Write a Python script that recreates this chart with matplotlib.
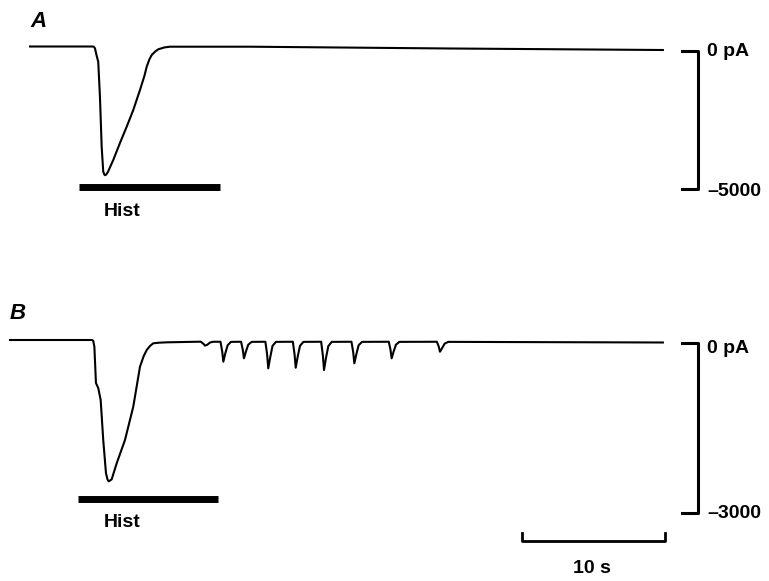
import matplotlib
matplotlib.use("Agg")
import matplotlib.pyplot as plt

plt.rcParams['font.family'] = ['Liberation Sans', 'DejaVu Sans']

# trace A: time (s), current (pA)
a_t = [1.40, 5.73, 5.85, 5.94, 6.05, 6.17, 6.29, 6.41, 6.52, 6.60, 6.66, 6.74, 6.85,
       7.22, 7.69, 8.16, 8.62, 9.09, 9.40, 9.56, 9.75, 9.91, 10.15, 10.37, 10.80,
       11.19, 16.78, 30.77, 45.66]
a_i = [163, 163, 160, 100, -150, -388, -1656, -3467, -4373, -4480, -4500, -4470, -4380,
       -3949, -3333, -2743, -2138, -1413, -900, -569, -300, -145, -20, 62, 130,
       156, 156, 91, 36]

# trace B: main response then repeated transient inward currents
b_t = [0.00, 5.71, 5.82, 5.90, 6.01, 6.17, 6.34, 6.52, 6.71, 6.82, 6.90, 6.98, 7.11,
       7.46, 8.04, 8.62, 9.09, 9.35, 9.56, 9.80, 10.02, 10.40, 10.96, 13.29,
       13.35, 13.55, 13.64, 13.80, 14.00, 14.20,
       14.72, 14.84, 14.92, 15.06, 15.22, 15.45,
       16.16, 16.28, 16.36, 16.50, 16.66, 16.90,
       17.86, 17.98, 18.06, 18.20, 18.36, 18.60,
       19.78, 19.90, 19.98, 20.12, 20.28, 20.52,
       21.76, 21.88, 21.96, 22.10, 22.26, 22.50,
       23.88, 24.00, 24.08, 24.22, 24.38, 24.62,
       26.49, 26.61, 26.69, 26.83, 26.99, 27.23,
       29.85, 29.98, 30.07, 30.22, 30.40, 30.65,
       45.66]
b_i = [53, 53, 40, -65, -706, -794, -1006, -1712, -2294, -2410, -2440, -2430, -2406,
       -2123, -1712, -1124, -418, -230, -124, -50, -5, 5, 12, 23,
       22, -20, -47, -30, 10, 22,
       22, -150, -330, -180, -40, 20,
       22, -120, -270, -150, -30, 20,
       22, -200, -447, -250, -50, 20,
       22, -200, -436, -240, -50, 20,
       22, -220, -477, -260, -55, 20,
       22, -160, -358, -200, -40, 20,
       22, -120, -270, -150, -30, 20,
       22, -60, -154, -90, -10, 20,
       9]

# histamine application (s)
hist_a = [4.83, 14.69]
hist_b = [4.76, 14.55]

fig = plt.figure(figsize=(7.69, 5.81), dpi=100)
xl = (-0.70, 53.08)

axA = fig.add_axes([0, 0, 1, 1])
axA.set_xlim(*xl)
axA.set_ylim(-19203, 1848)
axB = fig.add_axes([0, 0, 1, 1])
axB.set_xlim(*xl)
axB.set_ylim(-4200, 6053)
for ax in (axA, axB):
    ax.axis('off')
    ax.patch.set_alpha(0)

lw = 1.5
axA.plot(a_t, a_i, color='black', lw=lw, solid_joinstyle='round')
axB.plot(b_t, b_i, color='black', lw=lw, solid_joinstyle='round')

fs = 14
# hist bars
axA.plot(hist_a, [-4928, -4928], color='black', lw=5, solid_capstyle='butt')
axB.plot(hist_b, [-2753, -2753], color='black', lw=5, solid_capstyle='butt')
axA.text(7.83, -5833, 'Hist', ha='center', va='center', fontsize=fs, fontweight='bold')
axB.text(7.87, -3159, 'Hist', ha='center', va='center', fontsize=fs, fontweight='bold')

# current scale brackets
axA.plot([47.0, 48.11, 48.11, 47.0], [0, 0, -5000, -5000], color='black', lw=2.2)
axB.plot([47.0, 48.11, 48.11, 47.0], [0, 0, -3000, -3000], color='black', lw=2.2)
axA.text(48.74, 0, '0 pA', ha='left', va='center', fontsize=fs, fontweight='bold')
axA.text(48.74, -5100, '\u20135000', ha='left', va='center', fontsize=fs, fontweight='bold')
axB.text(48.74, -90, '0 pA', ha='left', va='center', fontsize=fs, fontweight='bold')
axB.text(48.74, -3000, '\u20133000', ha='left', va='center', fontsize=fs, fontweight='bold')

# time scale bar
axB.plot([35.8, 35.8, 45.8, 45.8], [-3354, -3495, -3495, -3354], color='black', lw=2)
axB.text(40.7, -3971, '10 s', ha='center', va='center', fontsize=fs, fontweight='bold')

# panel letters
axA.text(2.0, 1087, 'A', ha='center', va='center', fontsize=16,
         fontweight='bold', fontstyle='italic')
axB.text(0.55, 512, 'B', ha='center', va='center', fontsize=16,
         fontweight='bold', fontstyle='italic')

fig.savefig('out.png', dpi=100)
